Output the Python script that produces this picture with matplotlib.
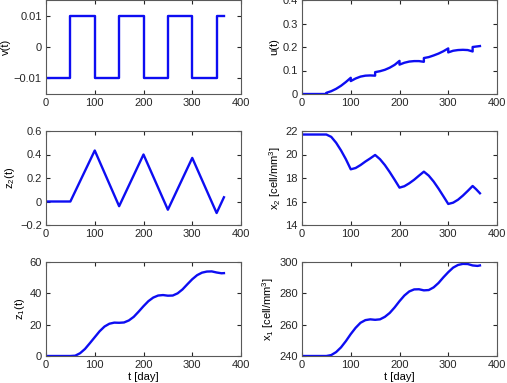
import numpy as np
import matplotlib
matplotlib.use("Agg")
import matplotlib.pyplot as plt

plt.rcParams["font.family"] = ["Liberation Sans", "DejaVu Sans"]
plt.rcParams["mathtext.fontset"] = "custom"
plt.rcParams["mathtext.rm"] = "Liberation Sans"
plt.rcParams["mathtext.it"] = "Liberation Sans"
plt.rcParams["font.size"] = 8

# v(t) square wave (breakpoints)
v_t = [0, 50, 100, 150, 200, 250, 300, 350, 365]
v_val = [-0.01, 0.01, -0.01, 0.01, -0.01, 0.01, -0.01, 0.01, 0.01]

# u(t)
u_t = [0, 50, 50, 60, 70, 80, 90, 100, 100, 110, 120, 130, 140, 150, 150,
       160, 170, 180, 190, 200, 200, 210, 220, 230, 240, 250, 250, 260, 270,
       280, 290, 300, 300, 310, 320, 330, 340, 350, 350, 365]
u_val = [0, 0, 0.005, 0.012, 0.022, 0.035, 0.051, 0.069, 0.055, 0.066, 0.074,
         0.078, 0.079, 0.078, 0.093, 0.097, 0.103, 0.112, 0.124, 0.141, 0.125,
         0.133, 0.138, 0.140, 0.140, 0.137, 0.153, 0.157, 0.164, 0.172, 0.182,
         0.194, 0.177, 0.184, 0.187, 0.188, 0.187, 0.181, 0.200, 0.204]

# z2(t) triangle wave vertices
z2_t = [0, 50, 100, 150, 200, 250, 300, 350, 365]
z2_val = [0, 0, 0.434, -0.04, 0.40, -0.07, 0.371, -0.098, 0.036]

# x2(t)
x2_t = [0, 50, 60, 70, 80, 90, 100, 110, 120, 130, 140, 150, 160, 170, 180,
        190, 200, 210, 220, 230, 240, 250, 260, 270, 280, 290, 300, 310, 320,
        330, 340, 350, 357, 365]
x2_val = [21.7, 21.7, 21.5, 21.0, 20.35, 19.6, 18.74, 18.85, 19.1, 19.4,
          19.67, 19.96, 19.6, 19.1, 18.5, 17.85, 17.18, 17.3, 17.55, 17.85,
          18.2, 18.54, 18.2, 17.7, 17.1, 16.45, 15.79, 15.9, 16.15, 16.5,
          16.9, 17.32, 17.05, 16.7]

# z1(t) and x1(t)
t_day = [0, 10, 20, 30, 40, 50, 60, 70, 80, 90, 100, 110, 120, 130, 140, 150,
         160, 170, 180, 190, 200, 210, 220, 230, 240, 250, 260, 270, 280, 290,
         300, 310, 320, 330, 340, 350, 360, 365]
z1_val = [0, 0, 0, 0, 0, 0, 0.2, 1.8, 4.5, 8.2, 12.0, 15.8, 18.8, 20.6, 21.3,
          21.2, 21.4, 22.7, 25.0, 28.3, 31.8, 35.0, 37.3, 38.6, 38.9, 38.5,
          38.6, 40.0, 42.5, 45.8, 49.0, 51.6, 53.2, 53.9, 54.0, 53.3, 52.8, 52.9]
x1_val = [240, 240, 240, 240, 240, 240, 240.6, 242.5, 245.5, 249.5, 254, 258,
          261.2, 262.9, 263.4, 263.1, 263.4, 265, 267.5, 271, 275, 278.6,
          281.2, 282.5, 282.6, 281.9, 282.1, 283.8, 286.6, 290.2, 293.5, 296.4,
          298.1, 298.8, 298.7, 297.8, 297.5, 297.8]

fig = plt.figure(figsize=(5.07, 3.83), dpi=100)

W = 195 / 507
H = 94 / 383
lefts = [46 / 507, 302 / 507]
bottoms = [289 / 383, 158 / 383, 27 / 383]


def make_ax(col, row):
    ax = fig.add_axes([lefts[col], bottoms[row], W, H])
    ax.set_xlim(0, 400)
    ax.set_xticks([0, 100, 200, 300, 400])
    ax.tick_params(direction="in", length=3, top=True, right=True,
                   colors="0.15", pad=3)
    for s in ax.spines.values():
        s.set_color("0.35")
        s.set_linewidth(0.8)
    return ax


blue = (0.05, 0.05, 0.95)
lw = 1.7

ax = make_ax(0, 0)
ax.step(v_t, v_val, where="post", color=blue, lw=lw)
ax.set_ylim(-0.015, 0.015)
ax.set_yticks([-0.01, 0, 0.01])
ax.set_yticklabels(["\u22120.01", "0", "0.01"])
ax.set_ylabel("v(t)", labelpad=2)

ax = make_ax(1, 0)
ax.plot(u_t, u_val, color=blue, lw=lw)
ax.set_ylim(0, 0.4)
ax.set_yticks([0, 0.1, 0.2, 0.3, 0.4])
ax.set_yticklabels(["0", "0.1", "0.2", "0.3", "0.4"])
ax.set_ylabel("u(t)", labelpad=2)

ax = make_ax(0, 1)
ax.plot(z2_t, z2_val, color=blue, lw=lw)
ax.set_ylim(-0.2, 0.6)
ax.set_yticks([-0.2, 0, 0.2, 0.4, 0.6])
ax.set_yticklabels(["\u22120.2", "0", "0.2", "0.4", "0.6"])
ax.set_ylabel(r"z$_2$(t)", labelpad=2)

ax = make_ax(1, 1)
ax.plot(x2_t, x2_val, color=blue, lw=lw)
ax.set_ylim(14, 22)
ax.set_yticks([14, 16, 18, 20, 22])
ax.set_ylabel(r"x$_2$ [cell/mm$^3$]", labelpad=2)

ax = make_ax(0, 2)
ax.plot(t_day, z1_val, color=blue, lw=lw)
ax.set_ylim(0, 60)
ax.set_yticks([0, 20, 40, 60])
ax.set_ylabel(r"z$_1$(t)", labelpad=2)
ax.set_xlabel("t [day]", labelpad=1)

ax = make_ax(1, 2)
ax.plot(t_day, x1_val, color=blue, lw=lw)
ax.set_ylim(240, 300)
ax.set_yticks([240, 260, 280, 300])
ax.set_ylabel(r"x$_1$ [cell/mm$^3$]", labelpad=2)
ax.set_xlabel("t [day]", labelpad=1)

fig.savefig("out.png", dpi=100)
